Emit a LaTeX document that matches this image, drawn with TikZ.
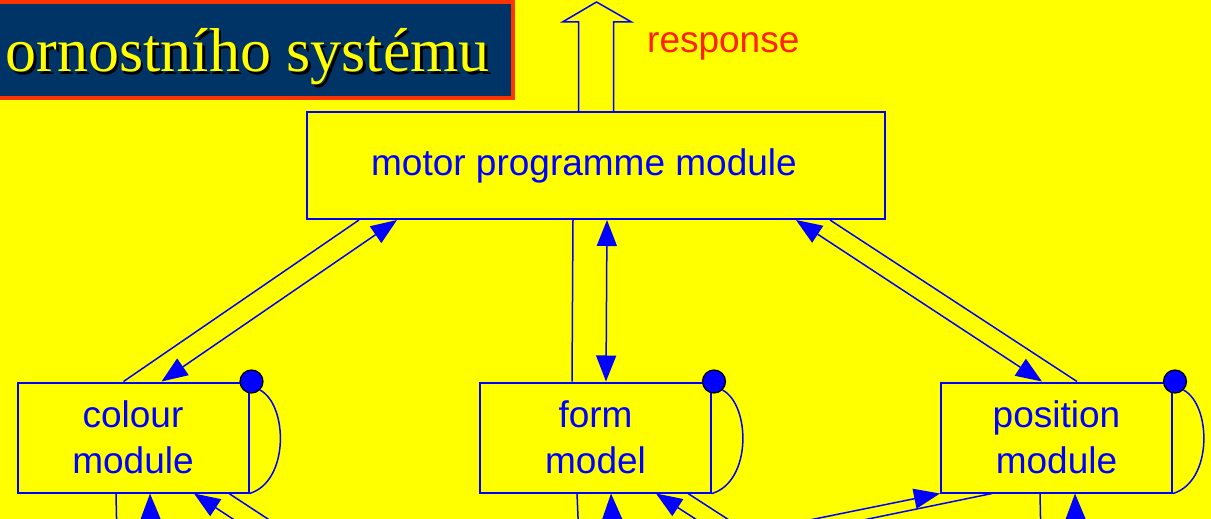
\documentclass[tikz,border=0pt]{standalone}
\usepackage{fontspec}
\setmainfont{Liberation Serif}
\setsansfont{Liberation Sans}
\usetikzlibrary{arrows.meta}
\definecolor{diagblue}{RGB}{0,0,255}
\definecolor{diagyellow}{RGB}{255,255,0}
\definecolor{titleblue}{RGB}{0,51,102}
\definecolor{titlered}{RGB}{255,51,0}
\definecolor{respred}{RGB}{255,32,0}
\newcommand{\modfont}{\sffamily\fontsize{37}{46}\selectfont}
\tikzstyle{module}=[draw=diagblue,line width=2pt,text=diagblue,font=\modfont,align=center,minimum width=231pt,minimum height=110pt,inner sep=0pt]
\tikzstyle{motor box}=[module,minimum width=578pt,minimum height=107pt]
\tikzstyle{dot}=[circle,fill=diagblue,draw=black,line width=1.2pt,minimum size=23pt,inner sep=0pt]
\tikzstyle{line}=[draw,diagblue,line width=1.5pt]
\tikzstyle{edge}=[line,-{Triangle[length=26pt,width=20pt]}]
\tikzstyle{both edge}=[line,{Triangle[length=26pt,width=20pt]}-{Triangle[length=26pt,width=20pt]}]
\tikzstyle{title}=[anchor=base east,font=\rmfamily\fontsize{62}{72}\selectfont,inner sep=0pt]

\begin{document}
\begin{tikzpicture}[x=1pt,y=-1pt]
						\useasboundingbox (0,0) rectangle (1211,519);
						\clip (0,0) rectangle (1211,519);
						\fill[diagyellow] (0,0) rectangle (1211,519);

						% Title bar, cut at the left edge
						\draw[titlered,fill=titleblue,line width=4pt] (-20,2) rectangle (513,98);
						\node[title,text=black] (shadow) at (492.5,74.5) {ornostního systému};
						\node[title,text=diagyellow] (heading) at (490,72) {ornostního systému};

						% First we draw the modules
						\node[motor box] (motor) at (596,165.5) {motor programme module\hspace*{24pt}};
						\foreach \x/\y/\name/\text in {133/437.5/colour/colour\\module, 595.5/437.5/form/form\\model, 1056.5/437.5/position/position\\module}
						\node[module] (\name) at (\x,\y) {\text};

						% Dots and feedback loops
						\foreach \name in {colour,form,position}
						{
							\node[dot] (\name dot) at ([xshift=2pt]\name.north east) {};
							\path[line] (\name dot.south east) .. controls +(28,15) and +(40,-12) .. (\name.south east);
						}

						% Response arrow
						\path[line,line join=miter] ([xshift=-17.5pt]motor.north) -- ++(0,-89) -- ++(-16,0) -- ++(34,-20) -- ++(35,20) -- ++(-18,0) -- ++(0,89);
						\node[anchor=base west,inner sep=0pt,text=respred,font=\sffamily\fontsize{37}{44}\selectfont] (response) at (647,53) {response};

						% Connect the motor programme module with the modules
						\foreach \a/\dest/\b in {53/colour/107, 267/form/93}
						\path[line] ([xshift=\a pt]motor.south west) -- ([xshift=\b pt]\dest.north west);
						\foreach \a/\dest/\b in {91/colour/145, 301/form/127}
						\path[both edge] ([xshift=\a pt]motor.south west) -- ([xshift=\b pt]\dest.north west);
						\path[line] ([xshift=-56pt]motor.south east) -- ([xshift=137pt]position.north west);
						\path[both edge] ([xshift=-90pt]motor.south east) -- ([xshift=102pt]position.north west);

						% Free ends of the connectors leaving at the bottom
						\foreach \name/\x in {cA/117, cB/151, cC/265, cD/300, fA/579, fB/613, fC/728, fD/760, pA/1041, pB/1076, pC/711, pD/766}
						\coordinate (\name) at (\x,540);

						\path[line] ([xshift=99.5pt]colour.south west) -- (cA);
						\path[edge] (cB) -- ([xshift=133.5pt]colour.south west);
						\path[edge] (cC) -- ([xshift=177.5pt]colour.south west);
						\path[line] ([xshift=212.5pt]colour.south west) -- (cD);

						\path[line] ([xshift=98pt]form.south west) -- (fA);
						\path[edge] (fB) -- ([xshift=132pt]form.south west);
						\path[edge] (fC) -- ([xshift=177pt]form.south west);
						\path[line] ([xshift=209pt]form.south west) -- (fD);

						\path[line] ([xshift=100pt]position.south west) -- (pA);
						\path[edge] (pB) -- ([xshift=135pt]position.south west);
						\path[edge] (pC) -- (position.south west);
						\path[line] ([xshift=52pt]position.south west) -- (pD);
\end{tikzpicture}
\end{document}
